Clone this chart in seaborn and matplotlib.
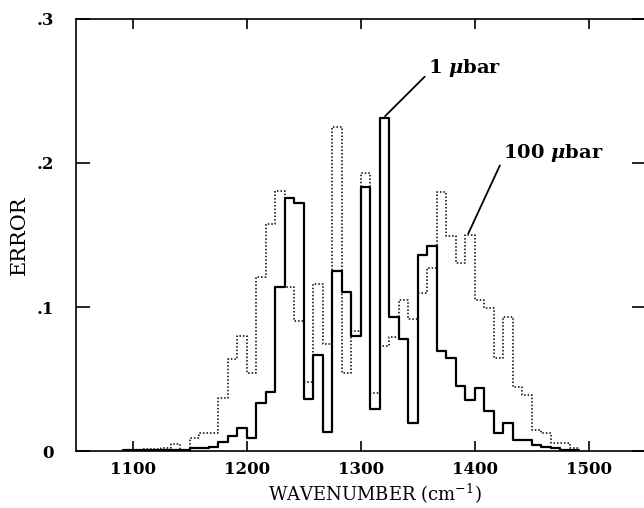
import numpy as np
import pandas as pd
import matplotlib
matplotlib.use("Agg")
import matplotlib.pyplot as plt
import seaborn as sns

# ---- data ----
bin_width = 25.0 / 3.0
first_edge = 1300 - 25 * bin_width          # ~1091.7
n_bins = 48
edges = [float(first_edge + bin_width * i) for i in range(n_bins + 1)]
centers = [0.5 * (edges[i] + edges[i + 1]) for i in range(n_bins)]

err_1ubar = [
    0.0005, 0.0005, 0.001, 0.001, 0.001, 0.001, 0.001, 0.002, 0.0023, 0.0025,
    0.0065, 0.0105, 0.016, 0.0088, 0.033, 0.041, 0.114, 0.176, 0.172, 0.036,
    0.067, 0.0134, 0.125, 0.1106, 0.080, 0.183, 0.029, 0.231, 0.093, 0.0775,
    0.0197, 0.136, 0.1426, 0.0697, 0.0648, 0.0454, 0.0354, 0.0435, 0.028, 0.0127,
    0.0192, 0.0076, 0.0076, 0.0042, 0.003, 0.002, 0.001, 0.0005,
]
err_100ubar = [
    0.001, 0.001, 0.0015, 0.0015, 0.002, 0.0049, 0.001, 0.0088, 0.0123, 0.0125,
    0.037, 0.064, 0.080, 0.054, 0.121, 0.1576, 0.1806, 0.114, 0.0903, 0.048,
    0.1157, 0.074, 0.2252, 0.054, 0.0833, 0.1933, 0.040, 0.0729, 0.0794, 0.1049,
    0.0917, 0.110, 0.1269, 0.1796, 0.1493, 0.1308, 0.150, 0.1049, 0.099, 0.0648,
    0.0933, 0.0442, 0.0389, 0.0146, 0.0127, 0.0055, 0.0055, 0.002,
]

x_ticks = [1100, 1200, 1300, 1400, 1500]
y_ticks = [0.0, 0.1, 0.2, 0.3]
y_tick_labels = ["0", ".1", ".2", ".3"]

df = pd.DataFrame({"wavenumber": centers, "e1": err_1ubar, "e100": err_100ubar})

# ---- style ----
sns.set_style("ticks")
plt.rcParams["font.family"] = ["DejaVu Serif", "DejaVu Sans"]
plt.rcParams["mathtext.fontset"] = "custom"
plt.rcParams["mathtext.rm"] = "DejaVu Serif"
plt.rcParams["mathtext.it"] = "DejaVu Serif:italic:bold"
plt.rcParams["mathtext.bf"] = "DejaVu Serif:bold"
plt.rcParams["text.color"] = "black"
plt.rcParams["axes.labelcolor"] = "black"

fig = plt.figure(figsize=(6.44, 5.08), dpi=100)
ax = fig.add_axes([76 / 644, 57 / 508, 569.5 / 644, 432 / 508])

sns.histplot(data=df, x="wavenumber", weights="e100", bins=edges,
             element="step", fill=False, color="black",
             linewidth=1.1, linestyle=(0, (1, 1.3)), ax=ax)
sns.histplot(data=df, x="wavenumber", weights="e1", bins=edges,
             element="step", fill=False, color="black",
             linewidth=1.6, ax=ax)

ax.set_xlim(1050, 1550)
ax.set_ylim(0, 0.3)
ax.set_xticks(x_ticks)
ax.set_xticklabels([str(v) for v in x_ticks])
ax.set_yticks(y_ticks)
ax.set_yticklabels(y_tick_labels)

for sp in ax.spines.values():
    sp.set_visible(True)
    sp.set_linewidth(1.2)
    sp.set_color("black")

ax.tick_params(axis="both", which="major", direction="in", color="black",
               width=1.2, top=True, right=True, labelcolor="black")
ax.tick_params(axis="x", length=7, pad=7, labelsize=12)
ax.tick_params(axis="y", length=10, pad=16, labelsize=12)
for lab in ax.get_xticklabels() + ax.get_yticklabels():
    lab.set_fontweight("bold")

ax.set_xlabel("WAVENUMBER (cm$^{-1}$)", fontsize=13, va="center", color="black")
ax.xaxis.set_label_coords(0.525, -0.0995)
ax.set_ylabel("ERROR", fontsize=15, va="center", color="black")
ax.yaxis.set_label_coords(-0.099, 0.5)

ax.annotate("1 $\\mu$bar", xy=(1321.3, 0.2325), xytext=(1359, 0.266),
            ha="left", va="center", fontsize=14, fontweight="bold", color="black",
            arrowprops=dict(arrowstyle="-", color="black", lw=1.3,
                            shrinkA=0, shrinkB=0, relpos=(0, 0.25)))
ax.annotate("100 $\\mu$bar", xy=(1394.4, 0.151), xytext=(1425, 0.207),
            ha="left", va="center", fontsize=14, fontweight="bold", color="black",
            arrowprops=dict(arrowstyle="-", color="black", lw=1.3,
                            shrinkA=0, shrinkB=0, relpos=(0, 0.25)))

fig.savefig("out.png", dpi=100)
